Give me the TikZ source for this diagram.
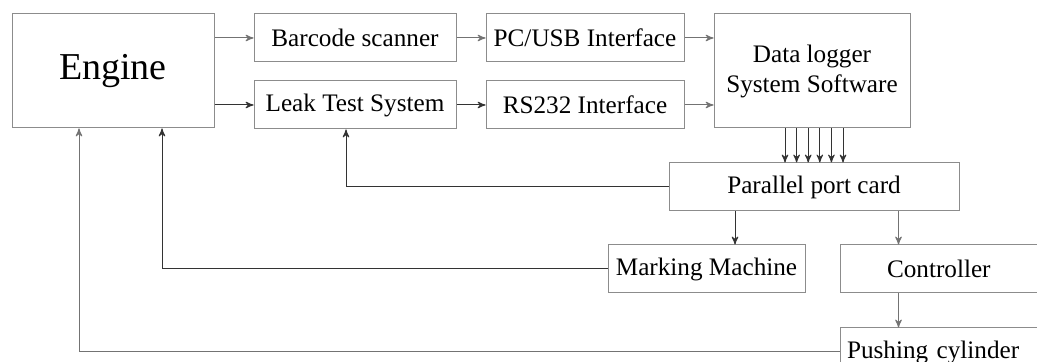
\documentclass[tikz,border=0pt]{standalone}
\usepackage{fontspec}
\setmainfont{Liberation Serif}
\usepackage{tikz}
\usetikzlibrary{calc,positioning}
\usetikzlibrary{arrows,shapes}

\begin{document}
\begin{tikzpicture}[x=0.5pt,y=0.5pt,>=stealth',
    blk/.style={draw=black!45,line width=.5pt,minimum height=24pt,inner sep=0pt,
      font=\fontsize{12.6}{15}\selectfont},
    wire/.style={->,line width=.5pt,black!80}]

      \useasboundingbox (0,0) rectangle (1037,-362);
      \clip (0,0) rectangle (1037,-362);

      \node[blk,minimum width=101pt,minimum height=57pt,font=\fontsize{19}{22}\selectfont] (engine) at (113,-71) {Engine};
      \node[blk,minimum width=101pt] (barcode) [right=19.5pt of engine.north east,anchor=north west] {Barcode scanner};
      \node[blk,minimum width=101pt] (leak) [below=9pt of barcode] {Leak Test System};
      \node[blk,minimum width=99pt] (pcusb) [right=14.5pt of barcode] {PC/USB Interface};
      \node[blk,minimum width=99pt] (rs232) [right=14.5pt of leak] {RS232 Interface};
      \node[blk,minimum width=98pt,minimum height=57pt,align=center] (logger)
        [right=14.5pt of pcusb.north east,anchor=north west] {Data logger\\System Software};
      \node[blk,minimum width=145pt] (parallel) [below=17pt of logger,xshift=1pt] {Parallel port card};
      \node[blk,minimum width=98.5pt] (marking)
        [below=16.5pt of parallel.south west,anchor=north west,xshift=-30.5pt] {Marking Machine};
      \node[blk,text width=80pt,align=left,inner xsep=23.5pt] (ctrl) [right=17pt of marking] {Controller};
      \node[blk,text width=100pt,align=left,inner xsep=3.5pt] (push)
        [below=17pt of ctrl.south west,anchor=north west] {Pushing cylinder};

      % engine to the readers
      \draw[wire,black!55] (engine.east |- barcode.west) -- (barcode.west);
      \draw[wire] (engine.east |- leak.west) -- (leak.west);
      \draw[wire,black!55] (barcode) -- (pcusb);
      \draw[wire] (leak) -- (rs232);
      \draw[wire,black!55] (pcusb.east) -- (logger.west |- pcusb.east);
      \draw[wire,black!55] (rs232.east) -- (logger.west |- rs232.east);

      % port lines
      \foreach \i in {0,...,5}
        \draw[wire] ([xshift=-13.5pt+5.8pt*\i]logger.south) -- ([xshift=-13.5pt+5.8pt*\i]logger.south |- parallel.north);

      \draw[wire] (parallel.west) -| ([xshift=-4.5pt]leak.south);
      \draw[wire] ([xshift=14.25pt]marking.north |- parallel.south) -- ([xshift=14.25pt]marking.north);
      \draw[wire,black!55] ([xshift=29.5pt]ctrl.north west |- parallel.south) -- ([xshift=29.5pt]ctrl.north west);
      \draw[wire,black!55] ([xshift=29.5pt]ctrl.south west) -- ([xshift=29.5pt]push.north west);

      % back to the engine
      \draw[wire] (marking.west) -| ([xshift=24.5pt]engine.south);
      \draw[wire,black!55] (push.west) -| ([xshift=-17pt]engine.south);
    \end{tikzpicture}
\end{document}
